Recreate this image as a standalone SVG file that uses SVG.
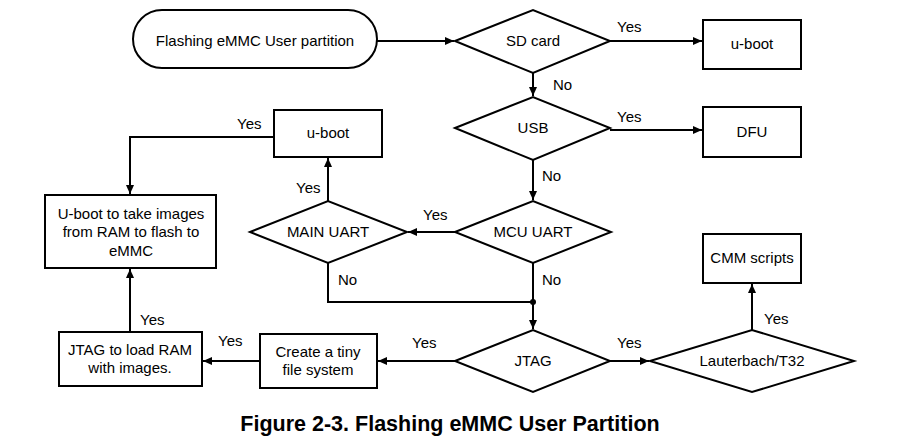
<svg xmlns="http://www.w3.org/2000/svg" width="900" height="446" viewBox="0 0 900 446">
<style>
.s{fill:#fff;stroke:#000;stroke-width:2}
.t{font-family:"Liberation Sans",Arial,sans-serif;font-size:15px;fill:#000;text-anchor:middle}
.l{font-family:"Liberation Sans",Arial,sans-serif;font-size:15px;fill:#000}
.c{fill:none;stroke:#000;stroke-width:2}
.cap{font-family:"Liberation Sans",Arial,sans-serif;font-size:21.5px;font-weight:bold;fill:#000;text-anchor:middle}
</style>
<defs>
<marker id="a" markerWidth="10" markerHeight="10" refX="9" refY="5" orient="auto" markerUnits="userSpaceOnUse">
<path d="M0,1 L9,5 L0,9 z" fill="#000"/>
</marker>
</defs>
<rect width="900" height="446" fill="#fff"/>
<g id="connectors">
<path class="c" d="M377,41 H454" marker-end="url(#a)"/>
<path class="c" d="M610,41 H702" marker-end="url(#a)"/>
<path class="c" d="M533,73 V96" marker-end="url(#a)"/>
<path class="c" d="M610,130 H702" marker-end="url(#a)"/>
<path class="c" d="M533,160 V200" marker-end="url(#a)"/>
<path class="c" d="M455,232 H408" marker-end="url(#a)"/>
<path class="c" d="M328,201 V158" marker-end="url(#a)"/>
<path class="c" d="M274,137 H130 V194" marker-end="url(#a)"/>
<path class="c" d="M328,263 V302 H533"/>
<path class="c" d="M533,263 V329" marker-end="url(#a)"/>
<circle cx="533" cy="302" r="3" fill="#000"/>
<path class="c" d="M610,361 H649" marker-end="url(#a)"/>
<path class="c" d="M752,330 V284" marker-end="url(#a)"/>
<path class="c" d="M455,361 H378" marker-end="url(#a)"/>
<path class="c" d="M260,361 H203" marker-end="url(#a)"/>
<path class="c" d="M130,332 V269" marker-end="url(#a)"/>
<text class="l" x="617" y="32">Yes</text>
<text class="l" x="553" y="90">No</text>
<text class="l" x="617" y="122">Yes</text>
<text class="l" x="542" y="181">No</text>
<text class="l" x="423" y="220">Yes</text>
<text class="l" x="296" y="193">Yes</text>
<text class="l" x="237" y="129">Yes</text>
<text class="l" x="338" y="285">No</text>
<text class="l" x="542" y="285">No</text>
<text class="l" x="617" y="348">Yes</text>
<text class="l" x="764" y="324">Yes</text>
<text class="l" x="412" y="348">Yes</text>
<text class="l" x="218" y="346">Yes</text>
<text class="l" x="140" y="325">Yes</text>
</g>
<g id="start"><rect class="s" x="133" y="10" width="244" height="58" rx="29"/><text class="t" x="255" y="46">Flashing eMMC User partition</text></g>
<g id="sdcard"><path class="s" d="M455,41 L533,10 L610,41 L533,73 z"/><text class="t" x="533" y="46">SD card</text></g>
<g id="uboot1"><rect class="s" x="703" y="20" width="98" height="49"/><text class="t" x="752" y="49">u-boot</text></g>
<g id="usb"><path class="s" d="M455,128 L533,97 L610,128 L533,160 z"/><text class="t" x="533" y="133">USB</text></g>
<g id="dfu"><rect class="s" x="703" y="107" width="98" height="50"/><text class="t" x="752" y="137">DFU</text></g>
<g id="mcuuart"><path class="s" d="M455,232 L533,201 L611,232 L533,263 z"/><text class="t" x="533" y="237">MCU UART</text></g>
<g id="mainuart"><path class="s" d="M250,232 L328,201 L407,232 L328,263 z"/><text class="t" x="328" y="237">MAIN UART</text></g>
<g id="uboot2"><rect class="s" x="274" y="110" width="108" height="47"/><text class="t" x="328" y="138">u-boot</text></g>
<g id="ubootflash"><rect class="s" x="45" y="195" width="171" height="73"/><text class="t" x="131" y="219">U-boot to take images</text><text class="t" x="131" y="237">from RAM to flash to</text><text class="t" x="131" y="256">eMMC</text></g>
<g id="jtag"><path class="s" d="M455,361 L533,330 L610,361 L533,392 z"/><text class="t" x="533" y="366">JTAG</text></g>
<g id="lauterbach"><path class="s" d="M650,361 L752,330 L854,361 L752,392 z"/><text class="t" x="752" y="366">Lauterbach/T32</text></g>
<g id="cmm"><rect class="s" x="703" y="234" width="98" height="49"/><text class="t" x="752" y="263">CMM scripts</text></g>
<g id="tinyfs"><rect class="s" x="260" y="334" width="117" height="54"/><text class="t" x="318" y="357">Create a tiny</text><text class="t" x="318" y="375">file system</text></g>
<g id="jtagram"><rect class="s" x="59" y="332" width="143" height="54"/><text class="t" x="130" y="355">JTAG to load RAM</text><text class="t" x="130" y="373">with images.</text></g>
<text class="cap" x="450" y="431">Figure 2-3. Flashing eMMC User Partition</text>
</svg>
